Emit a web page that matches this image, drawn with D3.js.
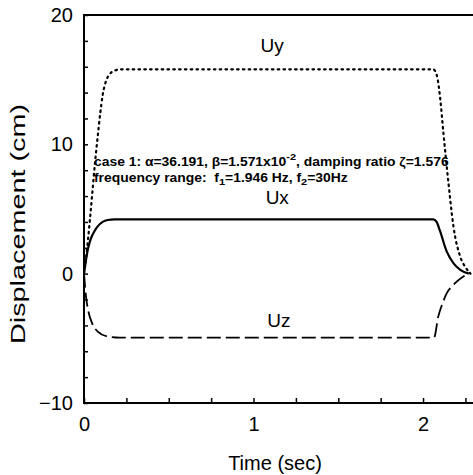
<!DOCTYPE html>
<html>
<head>
<meta charset="utf-8">
<script src="https://cdnjs.cloudflare.com/ajax/libs/d3/7.8.5/d3.min.js"></script>
<style>
  body { margin: 0; background: #fff; }
  svg { display: block; font-family: "Liberation Sans", Arial, Helvetica, sans-serif; }
</style>
</head>
<body>
<div id="chart-area"></div>
<script>
let width = 473,
    height = 475;

// data (time in sec, displacement in cm)
let uyTime = [0, 0.01, 0.02, 0.035, 0.05, 0.065, 0.08, 0.095, 0.11, 0.13, 0.15, 0.18, 0.22, 0.6, 1.2, 1.8, 2.06, 2.08, 2.10, 2.12, 2.15, 2.18, 2.22, 2.25, 2.28];
let uyValues = [0, 1.0, 2.2, 4.2, 6.4, 8.6, 10.5, 12.3, 13.8, 14.9, 15.4, 15.7, 15.8, 15.8, 15.8, 15.8, 15.8, 15.4, 13.7, 10.9, 7.0, 3.6, 1.3, 0.5, 0];

let uxTime = [0, 0.01, 0.02, 0.035, 0.05, 0.077, 0.11, 0.14, 0.18, 0.6, 1.2, 1.8, 2.06, 2.08, 2.10, 2.14, 2.18, 2.22, 2.27];
let uxValues = [0, 0.9, 1.7, 2.5, 3.0, 3.6, 4.0, 4.15, 4.2, 4.2, 4.2, 4.2, 4.2, 4.0, 3.3, 1.7, 0.8, 0.3, 0];

let uzTime = [0, 0.012, 0.024, 0.047, 0.083, 0.136, 0.21, 0.6, 1.2, 1.8, 2.065, 2.09, 2.115, 2.14, 2.17, 2.2, 2.24, 2.28];
let uzValues = [0, -1.8, -2.8, -3.8, -4.5, -4.85, -4.95, -4.95, -4.95, -4.95, -4.95, -3.3, -2.3, -1.5, -1.0, -0.6, -0.2, 0.1];

let xTicks = d3.range(0, 2.26, 0.25);
let xLabels = [0, 1, 2];
let yTicks = d3.range(-10, 20.1, 2);
let yLabels = [-10, 0, 10, 20];

let svg = d3.select("#chart-area").append("svg")
    .attr("width", width)
    .attr("height", height);

let x = d3.scaleLinear().domain([0, 2.3]).range([84, 473.9]);
let y = d3.scaleLinear().domain([-10, 20]).range([403, 15]);

// frame: left, top and bottom lines
svg.append("path")
  .attr("d", `M${x(2.3)},${y(20)}H${x(0)}V${y(-10)}H${x(2.3)}`)
  .attr("fill", "none")
  .attr("stroke", "#000")
  .attr("stroke-width", 2);

// inward ticks
svg.append("g")
  .attr("transform", `translate(${x(0)},0)`)
  .call(d3.axisLeft(y).tickValues(yTicks).tickSizeInner(-4).tickSizeOuter(0)
    .tickFormat(d => yLabels.includes(Math.round(d)) ? d3.format("d")(d) : "").tickPadding(11))
  .call(g => g.select(".domain").remove())
  .call(g => g.selectAll("line").attr("stroke-width", 1.5))
  .call(g => g.selectAll("text").attr("font-size", 20).attr("fill", "#000").attr("font-family", null));

svg.append("g")
  .attr("transform", `translate(0,${y(-10)})`)
  .call(d3.axisBottom(x).tickValues(xTicks).tickSizeInner(-5).tickSizeOuter(0)
    .tickFormat(d => xLabels.includes(d) ? d3.format("d")(d) : "").tickPadding(14))
  .call(g => g.select(".domain").remove())
  .call(g => g.selectAll("line").attr("stroke-width", 1.5))
  .call(g => g.selectAll("text").attr("font-size", 20).attr("fill", "#000").attr("font-family", null));

// axis titles
svg.append("text")
  .attr("x", 275).attr("y", 470)
  .attr("text-anchor", "middle")
  .attr("font-size", 20)
  .text("Time (sec)");

svg.append("text")
  .attr("transform", "translate(25,224) rotate(-90)")
  .attr("text-anchor", "middle")
  .attr("font-size", 21)
  .attr("textLength", 240)
  .attr("lengthAdjust", "spacingAndGlyphs")
  .text("Displacement (cm)");

// curves
let line = d3.line()
  .x(d => x(d[0]))
  .y(d => y(d[1]))
  .curve(d3.curveMonotoneX);

let series = [
  {name: "Uy", t: uyTime, v: uyValues, dash: "1.6,4.2", w: 2.2, cap: "round"},
  {name: "Ux", t: uxTime, v: uxValues, dash: null, w: 2.2, cap: "butt"},
  {name: "Uz", t: uzTime, v: uzValues, dash: "14,5", w: 1.8, cap: "butt"}
];

svg.selectAll(".curve")
  .data(series)
  .enter().append("path")
  .attr("class", "curve")
  .attr("d", d => line(d.t.map((t, i) => [t, d.v[i]])))
  .attr("fill", "none")
  .attr("stroke", "#000")
  .attr("stroke-width", d => d.w)
  .attr("stroke-linecap", d => d.cap)
  .attr("stroke-dasharray", d => d.dash);

// curve labels
let labelPos = [{t: 1.11, v: 17.15, s: "Uy"}, {t: 1.14, v: 5.35, s: "Ux"}, {t: 1.15, v: -4.15, s: "Uz"}];
svg.selectAll(".lbl")
  .data(labelPos)
  .enter().append("text")
  .attr("class", "lbl")
  .attr("x", d => x(d.t))
  .attr("y", d => y(d.v))
  .attr("text-anchor", "middle")
  .attr("font-size", 19)
  .text(d => d.s);

// annotation, stretched horizontally to the printed width
let note = svg.append("g").attr("font-size", 12).attr("font-weight", "bold");
let l1 = note.append("text").attr("x", 0).attr("y", 0);
l1.append("tspan").text("case 1: \u03b1=36.191, \u03b2=1.571x10");
l1.append("tspan").attr("dy", -6).attr("font-size", 9.5).text("-2");
l1.append("tspan").attr("dy", 6).text(", damping ratio \u03b6=1.576");

let l2 = note.append("text").attr("x", 0).attr("y", 16);
l2.append("tspan").text("frequency range:\u00a0\u00a0f");
l2.append("tspan").attr("dy", 3).attr("font-size", 9.5).text("1");
l2.append("tspan").attr("dy", -3).text("=1.946 Hz, f");
l2.append("tspan").attr("dy", 3).attr("font-size", 9.5).text("2");
l2.append("tspan").attr("dy", -3).text("=30Hz");

let w1 = l1.node().getComputedTextLength();
note.attr("transform", `translate(94,166) scale(${355 / w1},1)`);
</script>
</body>
</html>
